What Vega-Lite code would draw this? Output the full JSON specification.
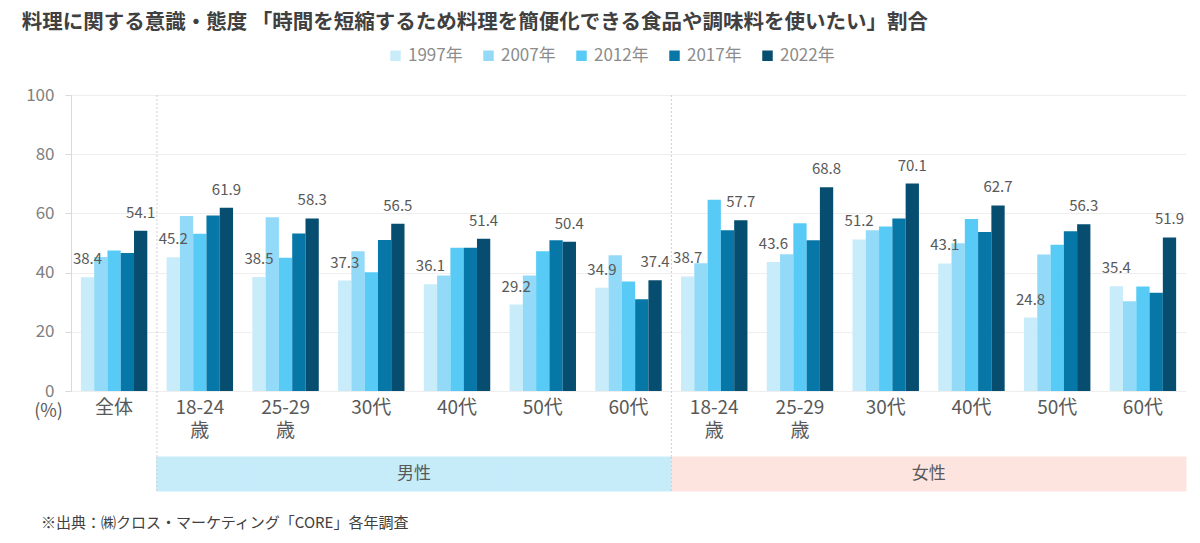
{
  "$schema": "https://vega.github.io/schema/vega-lite/v6.json",
  "autosize": {"type": "pad"},
  "padding": {"left": 21, "top": 12, "right": 15, "bottom": 10},
  "background": "white",
  "bounds": "flush",
  "spacing": 66,
  "config": {"font": "Noto Sans CJK JP", "view": {"stroke": null}},
  "title": {"text": "料理に関する意識・態度 「時間を短縮するため料理を簡便化できる食品や調味料を使いたい」割合", "anchor": "start", "fontSize": 20.5, "fontWeight": "bold", "color": "#404040", "offset": 14, "dx": -4},
  "datasets": {
    "bars": [
      {"k": "全体|全体", "y": "1997年", "v": 38.4}, {"k": "全体|全体", "y": "2007年", "v": 45.3}, {"k": "全体|全体", "y": "2012年", "v": 47.5}, {"k": "全体|全体", "y": "2017年", "v": 46.6}, {"k": "全体|全体", "y": "2022年", "v": 54.1},
      {"k": "男性|18-24|歳", "y": "1997年", "v": 45.2}, {"k": "男性|18-24|歳", "y": "2007年", "v": 59.1}, {"k": "男性|18-24|歳", "y": "2012年", "v": 53.1}, {"k": "男性|18-24|歳", "y": "2017年", "v": 59.3}, {"k": "男性|18-24|歳", "y": "2022年", "v": 61.9},
      {"k": "男性|25-29|歳", "y": "1997年", "v": 38.5}, {"k": "男性|25-29|歳", "y": "2007年", "v": 58.7}, {"k": "男性|25-29|歳", "y": "2012年", "v": 45.0}, {"k": "男性|25-29|歳", "y": "2017年", "v": 53.2}, {"k": "男性|25-29|歳", "y": "2022年", "v": 58.3},
      {"k": "男性|30代", "y": "1997年", "v": 37.3}, {"k": "男性|30代", "y": "2007年", "v": 47.2}, {"k": "男性|30代", "y": "2012年", "v": 40.1}, {"k": "男性|30代", "y": "2017年", "v": 51.0}, {"k": "男性|30代", "y": "2022年", "v": 56.5},
      {"k": "男性|40代", "y": "1997年", "v": 36.1}, {"k": "男性|40代", "y": "2007年", "v": 39.0}, {"k": "男性|40代", "y": "2012年", "v": 48.4}, {"k": "男性|40代", "y": "2017年", "v": 48.4}, {"k": "男性|40代", "y": "2022年", "v": 51.4},
      {"k": "男性|50代", "y": "1997年", "v": 29.2}, {"k": "男性|50代", "y": "2007年", "v": 39.0}, {"k": "男性|50代", "y": "2012年", "v": 47.2}, {"k": "男性|50代", "y": "2017年", "v": 50.9}, {"k": "男性|50代", "y": "2022年", "v": 50.4},
      {"k": "男性|60代", "y": "1997年", "v": 34.9}, {"k": "男性|60代", "y": "2007年", "v": 45.9}, {"k": "男性|60代", "y": "2012年", "v": 37.0}, {"k": "男性|60代", "y": "2017年", "v": 31.0}, {"k": "男性|60代", "y": "2022年", "v": 37.4},
      {"k": "女性|18-24|歳", "y": "1997年", "v": 38.7}, {"k": "女性|18-24|歳", "y": "2007年", "v": 43.2}, {"k": "女性|18-24|歳", "y": "2012年", "v": 64.6}, {"k": "女性|18-24|歳", "y": "2017年", "v": 54.3}, {"k": "女性|18-24|歳", "y": "2022年", "v": 57.7},
      {"k": "女性|25-29|歳", "y": "1997年", "v": 43.6}, {"k": "女性|25-29|歳", "y": "2007年", "v": 46.2}, {"k": "女性|25-29|歳", "y": "2012年", "v": 56.7}, {"k": "女性|25-29|歳", "y": "2017年", "v": 50.9}, {"k": "女性|25-29|歳", "y": "2022年", "v": 68.8},
      {"k": "女性|30代", "y": "1997年", "v": 51.2}, {"k": "女性|30代", "y": "2007年", "v": 54.3}, {"k": "女性|30代", "y": "2012年", "v": 55.6}, {"k": "女性|30代", "y": "2017年", "v": 58.3}, {"k": "女性|30代", "y": "2022年", "v": 70.1},
      {"k": "女性|40代", "y": "1997年", "v": 43.1}, {"k": "女性|40代", "y": "2007年", "v": 49.9}, {"k": "女性|40代", "y": "2012年", "v": 58.1}, {"k": "女性|40代", "y": "2017年", "v": 53.7}, {"k": "女性|40代", "y": "2022年", "v": 62.7},
      {"k": "女性|50代", "y": "1997年", "v": 24.8}, {"k": "女性|50代", "y": "2007年", "v": 46.1}, {"k": "女性|50代", "y": "2012年", "v": 49.4}, {"k": "女性|50代", "y": "2017年", "v": 54.0}, {"k": "女性|50代", "y": "2022年", "v": 56.3},
      {"k": "女性|60代", "y": "1997年", "v": 35.4}, {"k": "女性|60代", "y": "2007年", "v": 30.3}, {"k": "女性|60代", "y": "2012年", "v": 35.3}, {"k": "女性|60代", "y": "2017年", "v": 33.2}, {"k": "女性|60代", "y": "2022年", "v": 51.9}
    ],
    "gender": [
      {"k": "男性|18-24|歳", "g": "男性"}, {"k": "男性|25-29|歳", "g": "男性"}, {"k": "男性|30代", "g": "男性"}, {"k": "男性|40代", "g": "男性"}, {"k": "男性|50代", "g": "男性"}, {"k": "男性|60代", "g": "男性"},
      {"k": "女性|18-24|歳", "g": "女性"}, {"k": "女性|25-29|歳", "g": "女性"}, {"k": "女性|30代", "g": "女性"}, {"k": "女性|40代", "g": "女性"}, {"k": "女性|50代", "g": "女性"}, {"k": "女性|60代", "g": "女性"}
    ],
    "glabels": [{"k": "男性|40代", "g": "男性"}, {"k": "女性|40代", "g": "女性"}],
    "seps": [{"k": "男性|18-24|歳"}, {"k": "女性|18-24|歳"}]
  },
  "vconcat": [
    {
      "width": 1115,
      "height": 296,
      "layer": [
        {
          "data": {"name": "bars"},
          "mark": {"type": "bar"},
          "encoding": {
            "x": {"field": "k", "type": "nominal", "sort": null,
              "scale": {"domain": ["全体|全体", "男性|18-24|歳", "男性|25-29|歳", "男性|30代", "男性|40代", "男性|50代", "男性|60代", "女性|18-24|歳", "女性|25-29|歳", "女性|30代", "女性|40代", "女性|50代", "女性|60代"], "paddingInner": 0.225, "paddingOuter": 0.115},
              "axis": {"title": null, "labelExpr": "slice(split(datum.value,'|'),1)", "labelAngle": 0, "labelFontSize": 19, "labelColor": "#595959", "labelLineHeight": 23, "labelBaseline": "top", "domain": false, "ticks": false, "labelPadding": 7}},
            "xOffset": {"field": "y", "type": "nominal", "sort": null, "scale": {"domain": ["1997年", "2007年", "2012年", "2017年", "2022年"], "paddingInner": 0, "paddingOuter": 0}},
            "y": {"field": "v", "type": "quantitative", "scale": {"domain": [0, 100]},
              "axis": {"values": [0, 20, 40, 60, 80, 100], "title": "(%)", "titleAngle": 0, "titleX": -23, "titleY": 316, "titleAlign": "center", "titleBaseline": "middle", "titleFontSize": 18, "titleFontWeight": "normal", "titleColor": "#595959", "labelFontSize": 17, "labelColor": "#808080", "gridColor": "#eeeeee", "domainColor": "#d9d9d9", "tickColor": "#d9d9d9", "tickSize": 6, "labelPadding": 11}},
            "color": {"field": "y", "type": "nominal", "sort": null,
              "scale": {"domain": ["1997年", "2007年", "2012年", "2017年", "2022年"], "range": ["#c9ecfb", "#93daf8", "#57cbf5", "#0777a8", "#064d70"]},
              "legend": {"title": null, "orient": "none", "legendX": 316, "legendY": -48, "padding": 0, "direction": "horizontal", "symbolType": "square", "symbolSize": 110, "symbolStrokeWidth": 0, "labelFontSize": 17, "labelColor": "#8c8c8c", "columnPadding": 17, "labelOffset": 4}}
          }
        },
        {
          "data": {"name": "bars"},
          "transform": [{"filter": "datum.y === '1997年' || datum.y === '2022年'"}],
          "mark": {"type": "text", "dy": -18, "fontSize": 15, "color": "#595959"},
          "encoding": {
            "x": {"field": "k", "type": "nominal", "sort": null},
            "xOffset": {"field": "y", "type": "nominal", "sort": null},
            "y": {"field": "v", "type": "quantitative"},
            "text": {"field": "v", "type": "quantitative", "format": ".1f"}
          }
        },
        {
          "data": {"name": "seps"},
          "mark": {"type": "rule", "color": "#cfcfcf", "strokeDash": [2, 2]},
          "encoding": {
            "x": {"field": "k", "type": "nominal", "sort": null, "bandPosition": -0.145},
            "y": {"datum": 100},
            "y2": {"datum": -22.3}
          }
        }
      ]
    },
    {
      "width": 1115,
      "height": 34,
      "title": {"text": "※出典：㈱クロス・マーケティング「CORE」各年調査", "orient": "bottom", "anchor": "start", "fontSize": 15, "fontWeight": "normal", "color": "#404040", "offset": 24, "dx": -30},
      "layer": [
        {
          "data": {"name": "gender"},
          "mark": {"type": "bar", "strokeWidth": 1},
          "encoding": {
            "x": {"field": "k", "type": "nominal", "sort": null,
              "scale": {"domain": ["全体|全体", "男性|18-24|歳", "男性|25-29|歳", "男性|30代", "男性|40代", "男性|50代", "男性|60代", "女性|18-24|歳", "女性|25-29|歳", "女性|30代", "女性|40代", "女性|50代", "女性|60代"], "paddingInner": 0, "paddingOuter": 0},
              "axis": null},
            "color": {"field": "g", "type": "nominal", "scale": {"domain": ["男性", "女性"], "range": ["#c6ecfa", "#fde4df"]}, "legend": null},
            "stroke": {"field": "g", "type": "nominal", "scale": {"domain": ["男性", "女性"], "range": ["#c6ecfa", "#fde4df"]}, "legend": null}
          }
        },
        {
          "data": {"name": "glabels"},
          "mark": {"type": "text", "fontSize": 17, "color": "#595959"},
          "encoding": {
            "x": {"field": "k", "type": "nominal", "sort": null, "bandPosition": 0},
            "text": {"field": "g", "type": "nominal"}
          }
        },
        {
          "data": {"name": "seps"},
          "mark": {"type": "rule", "color": "#cfcfcf", "strokeDash": [2, 2]},
          "encoding": {
            "x": {"field": "k", "type": "nominal", "sort": null, "bandPosition": 0}
          }
        }
      ]
    }
  ],
  "resolve": {"scale": {"color": "independent", "x": "independent", "stroke": "independent"}}
}
